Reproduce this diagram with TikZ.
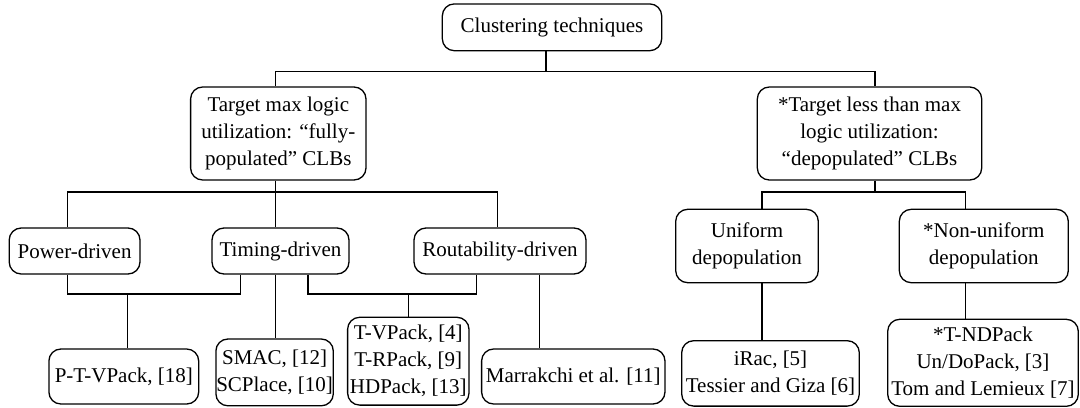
\documentclass[tikz,border=0pt]{standalone}
\usepackage{fontspec}
\setmainfont{Liberation Serif}

\begin{document}
\begin{tikzpicture}[
        x=0.5pt, y=-0.5pt,
        box/.style={draw, rounded corners=6pt, line width=0.65pt, align=center,
            inner sep=0pt, font=\fontsize{10.5}{13.5}\selectfont},
        ln/.style={-, line width=0.65pt},
    ]
    \useasboundingbox (0,0) rectangle (1080,407);

    % top and first level
    \node[box, minimum width=109.7pt, minimum height=23.4pt](root) at (552,27.3) {Clustering techniques};
    \node[box, minimum width=87.7pt, minimum height=46.5pt](full) at (278.3,133.5)
        {Target max logic\\utilization: “fully-\\populated” CLBs};
    \node[box, minimum width=112.2pt, minimum height=46.5pt](depop) at (869.5,133.5)
        {*Target less than max\\logic utilization:\\“depopulated” CLBs};

    % second level
    \node[box, minimum width=65.4pt, minimum height=23pt](power) at (74.6,251) {Power-driven};
    \node[box, minimum width=68.5pt, minimum height=23pt](timing) at (280.5,251) {Timing-driven};
    \node[box, minimum width=86pt, minimum height=23pt](rout) at (500,251) {Routability-driven};
    \node[box, minimum width=71.3pt, minimum height=36.7pt](uni) at (747,246) {Uniform\\depopulation};
    \node[box, minimum width=84.5pt, minimum height=36.7pt](nonuni) at (983.8,246) {*Non-uniform\\depopulation};

    % leaves
    \node[box, minimum width=74.9pt, minimum height=27.5pt](ptv) at (123.8,376.5) {P-T-VPack, [18]};
    \node[box, minimum width=58.7pt, minimum height=33.4pt](smac) at (274.6,372.4) {SMAC, [12]\\SCPlace, [10]};
    \node[box, minimum width=60.7pt, minimum height=43.9pt](tvp) at (408.3,361.2)
        {T-VPack, [4]\\T-RPack, [9]\\HDPack, [13]};
    \node[box, minimum width=91.7pt, minimum height=27.5pt](marr) at (573.3,376.5) {Marrakchi et al. [11]};
    \node[box, minimum width=88.8pt, minimum height=32.7pt](irac) at (770.5,373.4) {iRac, [5]\\Tessier and Giza [6]};
    \node[box, minimum width=95.3pt, minimum height=43.5pt](tnd) at (983,362.8)
        {*T-NDPack\\Un/DoPack, [3]\\Tom and Lemieux [7]};

    % bus points and columns
    \coordinate (b0) at (546,71.7);
    \coordinate (b1) at (275.5,192);
    \coordinate (b2) at (875,192);
    \coordinate (b3) at (127.7,294);
    \coordinate (b4) at (408.3,294);
    \coordinate (xpow) at (67.7,0);
    \coordinate (xrout) at (497.7,0);
    \coordinate (xuni) at (762,0);
    \coordinate (xnon) at (965.7,0);
    \coordinate (xtl) at (240.7,0);
    \coordinate (xtr) at (308,0);
    \coordinate (xrl) at (476.7,0);
    \coordinate (xmarr) at (539.3,0);

    \draw[ln] (root.south -| b0) -- (b0) -| (full.north -| b1);
    \draw[ln] (b0) -| (depop.north -| b2);

    \draw[ln] (full.south -| b1) -- (timing.north -| b1);
    \draw[ln] (b1) -| (power.north -| xpow);
    \draw[ln] (b1) -| (rout.north -| xrout);

    \draw[ln] (depop.south -| b2) -- (b2);
    \draw[ln] (b2) -| (uni.north -| xuni);
    \draw[ln] (b2) -| (nonuni.north -| xnon);

    \draw[ln] (power.south -| xpow) |- (b3) -| (timing.south -| xtl);
    \draw[ln] (b3) -- (ptv.north -| b3);
    \draw[ln] (timing.south -| b1) -- (smac.north -| b1);
    \draw[ln] (timing.south -| xtr) |- (b4) -| (rout.south -| xrl);
    \draw[ln] (b4) -- (tvp.north -| b4);
    \draw[ln] (rout.south -| xmarr) -- (marr.north -| xmarr);
    \draw[ln] (uni.south -| xuni) -- (irac.north -| xuni);
    \draw[ln] (nonuni.south -| xnon) -- (tnd.north -| xnon);
\end{tikzpicture}
\end{document}
